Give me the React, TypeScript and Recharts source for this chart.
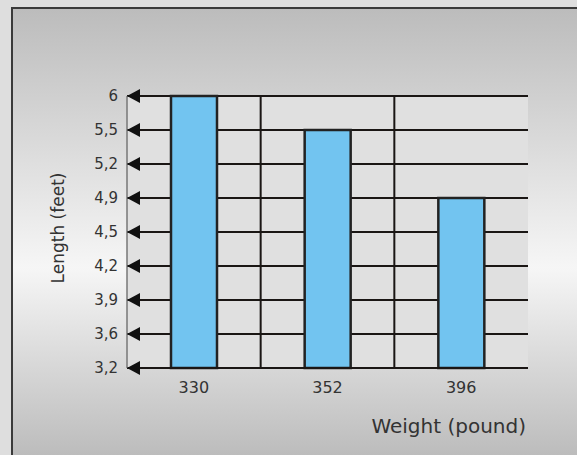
import React from 'react';
import { BarChart, Bar, XAxis, YAxis, CartesianGrid } from 'recharts';

const weights = ['330', '352', '396'];
const lengths = [6, 5.5, 4.9];
const lengthTicks = [3.2, 3.6, 3.9, 4.2, 4.5, 4.9, 5.2, 5.5, 6];

const FONT = '"DejaVu Sans", sans-serif';

// the y axis is evenly spaced by tick, so bars are drawn on tick index
const data = weights.map((w, i) => ({
  weight: w,
  length: lengths[i],
  pos: lengthTicks.indexOf(lengths[i]),
}));

const fmt = (v: number) => String(v).replace('.', ',');

function ArrowTick(props: any) {
  const { x, y, payload } = props;
  const label = lengthTicks[payload.value];
  return (
    <g>
      <polygon points={`${x},${y} ${x + 13},${y - 7} ${x + 13},${y + 7}`} fill="#111" />
      <text x={x - 9} y={y} dy="0.36em" textAnchor="end" fontSize={15} fill="#333" fontFamily={FONT}>
        {label !== undefined ? fmt(label) : ''}
      </text>
    </g>
  );
}

export default function App() {
  return (
    <div style={{ position: 'relative', width: 577, height: 455, background: '#dedede', overflow: 'hidden' }}>
      <style>{'body{margin:0}'}</style>
      <div
        style={{
          position: 'absolute',
          left: 11,
          top: 7,
          right: 0,
          bottom: 0,
          borderLeft: '2px solid #3a3a3a',
          borderTop: '2px solid #3a3a3a',
          background: 'linear-gradient(#bcbcbc 0%, #f6f6f6 58%, #bcbcbc 100%)',
        }}
      />
      <div style={{ position: 'absolute', left: 0, top: 0 }}>
        <BarChart
          width={577}
          height={455}
          data={data}
          margin={{ top: 96, right: 49, left: 67, bottom: 57 }}
          barCategoryGap={0}
        >
          <CartesianGrid
            fill="#e0e0e0"
            stroke="#1a1614"
            strokeWidth={2}
            verticalCoordinatesGenerator={({ offset }: any) => [
              offset.left + offset.width / 3,
              offset.left + (2 * offset.width) / 3,
            ]}
          />
          <XAxis
            dataKey="weight"
            tickLine={false}
            tickMargin={8}
            axisLine={{ stroke: '#1a1614', strokeWidth: 2 }}
            tick={{ fontSize: 16, fill: '#333', fontFamily: FONT }}
            height={30}
            label={{
              content: ({ viewBox }: any) => (
                <text
                  x={viewBox.x + viewBox.width - 2}
                  y={viewBox.y + 65}
                  textAnchor="end"
                  fontSize={20}
                  fill="#333"
                  fontFamily={FONT}
                >
                  Weight (pound)
                </text>
              ),
            }}
          />
          <YAxis
            type="number"
            domain={[0, lengthTicks.length - 1]}
            ticks={lengthTicks.map((_, i) => i)}
            interval={0}
            width={60}
            tickSize={0}
            tickMargin={0}
            tickLine={false}
            axisLine={{ stroke: '#777', strokeWidth: 1.5 }}
            tick={<ArrowTick />}
            label={{
              content: ({ viewBox }: any) => {
                const cx = viewBox.x - 3;
                const cy = viewBox.y + viewBox.height / 2 - 4;
                return (
                  <text
                    x={cx}
                    y={cy}
                    transform={`rotate(-90 ${cx} ${cy})`}
                    textAnchor="middle"
                    fontSize={17}
                    fill="#333"
                    fontFamily={FONT}
                  >
                    Length (feet)
                  </text>
                );
              },
            }}
          />
          <YAxis
            yAxisId="right"
            orientation="right"
            width={0}
            tick={false}
            tickLine={false}
            axisLine={{ stroke: '#777', strokeWidth: 1.5 }}
          />
          <Bar
            dataKey="pos"
            fill="#72c4f0"
            stroke="#222"
            strokeWidth={2.5}
            barSize={46}
            isAnimationActive={false}
          />
        </BarChart>
      </div>
    </div>
  );
}
